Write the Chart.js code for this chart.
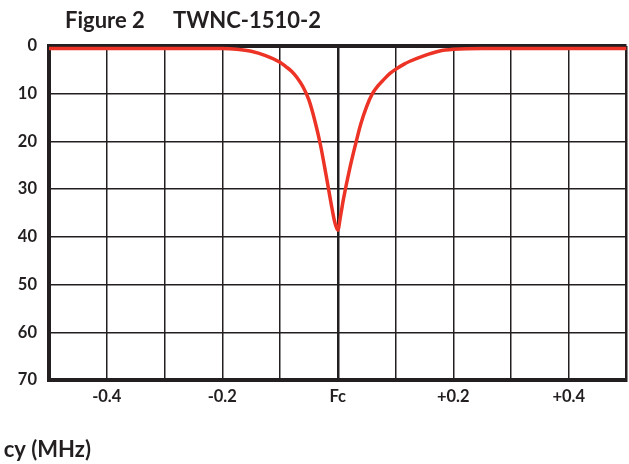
<!DOCTYPE html>
<html>
<head>
<meta charset="utf-8">
<script src="https://cdn.jsdelivr.net/npm/chart.js@4"></script>
<style>
  html,body{margin:0;padding:0;background:#fff;}
  #wrap{width:629px;height:464px;position:relative;}
</style>
</head>
<body>
<div id="wrap"><canvas id="chart" width="629" height="464"></canvas></div>
<script>
// notch response (offset from Fc in MHz vs attenuation in dB)
const freqOffsets = [-0.5,-0.4,-0.3,-0.2,-0.175,-0.15,-0.125,-0.1,-0.09,-0.08,-0.07,-0.06,-0.05,-0.04,-0.03,-0.02,-0.01,-0.005,0,
  0.005,0.01,0.02,0.03,0.04,0.05,0.06,0.07,0.08,0.09,0.1,0.115,0.125,0.15,0.175,0.2,0.25,0.3,0.4,0.5];
const attenuation = [0.5,0.5,0.5,0.55,0.7,1.1,2.0,3.4,4.3,5.3,6.7,8.6,11.3,15.5,20.7,27.2,34,37,38.6,
  35.5,32,26.1,21,16.3,12.7,10.0,8.3,7.0,5.8,4.9,3.8,3.2,2.0,1.1,0.7,0.5,0.5,0.5,0.5];

const xGrid = [-0.5,-0.4,-0.3,-0.2,-0.1,0,0.1,0.2,0.3,0.4,0.5];
const xTickValues = [-0.4,-0.2,0,0.2,0.4];
const xTickLabels = ['-0.4','-0.2','Fc','+0.2','+0.4'];
const yTicks = [0,10,20,30,40,50,60,70];

const TITLE_A = 'Figure 2';
const TITLE_B = 'TWNC-1510-2';
const X_TITLE = 'Frequency (MHz)';
const X_TITLE_SHOWN = 'cy (MHz)'; // the source image cuts the axis title off at the left

const INK = '#231f20';
const RED = '#ec3325';
const FONT = 'Lato, "Open Sans", sans-serif';

const textPlugin = {
  id: 'texts',
  afterDraw(c){
    const g = c.ctx;
    g.save();
    g.fillStyle = INK;
    g.textBaseline = 'alphabetic';
    g.font = `bold 22px ${FONT}`;
    g.textAlign = 'left';
    g.fillText(TITLE_A, 65, 28);
    g.fillText(TITLE_B, 173, 28);
    // axis title, cropped like the original
    g.textAlign = 'right';
    const visible = g.measureText(X_TITLE_SHOWN).width;
    g.beginPath();
    g.rect(91 - visible, 420, visible + 10, 44);
    g.clip();
    g.fillText(X_TITLE, 91, 457);
    g.restore();
  }
};

new Chart(document.getElementById('chart'), {
  type: 'line',
  data: {
    datasets: [{
      data: freqOffsets.map((x,i)=>({x, y: attenuation[i]})),
      borderColor: RED,
      borderWidth: 3.5,
      pointRadius: 0,
      pointHoverRadius: 0,
      cubicInterpolationMode: 'monotone',
      fill: false
    }]
  },
  options: {
    responsive: false,
    animation: false,
    layout: { autoPadding: false, padding: { top: 46, right: 2.5, left: 0, bottom: 0 } },
    plugins: { legend: { display: false }, tooltip: { enabled: false }, title: { display: false } },
    scales: {
      x: {
        type: 'linear',
        min: -0.5, max: 0.5,
        afterBuildTicks: a => { a.ticks = xGrid.map(v => ({ value: v })); },
        afterFit: a => { a.height = 84; a.paddingLeft = 0; a.paddingRight = 0; },
        ticks: {
          autoSkip: false,
          maxRotation: 0,
          padding: 7,
          color: INK,
          font: { family: FONT, size: 16.5, weight: 'bold' },
          callback: v => {
            const i = xTickValues.findIndex(t => Math.abs(t - v) < 1e-6);
            return i >= 0 ? xTickLabels[i] : '';
          }
        },
        grid: {
          drawTicks: false,
          color: INK,
          lineWidth: c => {
            const v = c.tick ? c.tick.value : null;
            if (v === null) return 1.5;
            if (Math.abs(v) < 1e-6) return 2.5;
            if (Math.abs(v - 0.5) < 1e-6) return 2.5;
            return 1.5;
          }
        },
        border: { display: true, width: 4, color: INK }
      },
      y: {
        type: 'linear',
        reverse: true,
        min: 0, max: 70,
        afterBuildTicks: a => { a.ticks = yTicks.map(v => ({ value: v })); },
        afterFit: a => { a.width = 49; },
        ticks: {
          padding: 12,
          color: INK,
          font: { family: FONT, size: 16.5, weight: 'bold' }
        },
        grid: {
          drawTicks: false,
          color: INK,
          lineWidth: c => (c.tick && c.tick.value === 0) ? 4 : 1.5
        },
        border: { display: true, width: 4, color: INK }
      }
    }
  },
  plugins: [textPlugin]
});
</script>
</body>
</html>
